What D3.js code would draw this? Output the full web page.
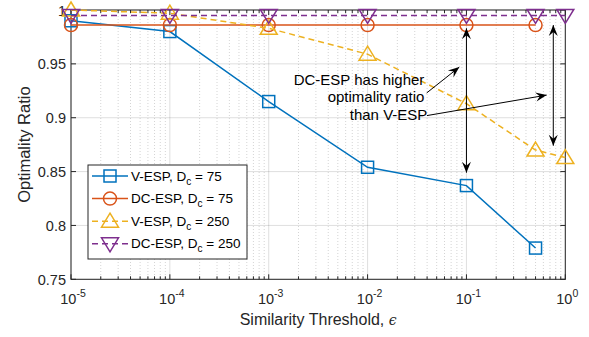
<!DOCTYPE html>
<html>
<head>
<meta charset="UTF-8">
<script src="https://d3js.org/d3.v7.min.js"></script>
<style>
  body { margin: 0; background: #fff; }
  svg { display: block; font-family: 'Liberation Sans', Arial, sans-serif; }
  .grid line { stroke: #262626; stroke-opacity: 0.15; }
  .mgrid line { stroke: #262626; stroke-opacity: 0.2; stroke-dasharray: 1,2; }
</style>
</head>
<body>
<svg id="chart" width="589" height="337"></svg>
<script>
// data
const xTicks = [1e-5, 1e-4, 1e-3, 1e-2, 1e-1, 1];
const xTickExp = ["-5", "-4", "-3", "-2", "-1", "0"];
const yTicks = [0.75, 0.8, 0.85, 0.9, 0.95, 1];
const yTickLabels = ["0.75", "0.8", "0.85", "0.9", "0.95", "1"];

const epsShort = [1e-5, 1e-4, 1e-3, 1e-2, 1e-1, 0.5];
const epsLong = [1e-5, 1e-4, 1e-3, 1e-2, 1e-1, 0.5, 1];
const vEsp75 = [0.990, 0.980, 0.915, 0.854, 0.837, 0.779];
const dcEsp75 = [0.986, 0.986, 0.986, 0.986, 0.986, 0.986];
const vEsp250 = [1.0, 0.997, 0.983, 0.959, 0.913, 0.870, 0.863];
const dcEsp250 = [0.995, 0.995, 0.995, 0.995, 0.995, 0.995, 0.995];

const series = [
  { name: "V-ESP, D", sub: "c", val: " = 75", x: epsShort, y: vEsp75, color: "#0072BD", dash: null, marker: "square" },
  { name: "DC-ESP, D", sub: "c", val: " = 75", x: epsShort, y: dcEsp75, color: "#D95319", dash: null, marker: "circle" },
  { name: "V-ESP, D", sub: "c", val: " = 250", x: epsLong, y: vEsp250, color: "#EDB120", dash: "6,4", marker: "up" },
  { name: "DC-ESP, D", sub: "c", val: " = 250", x: epsLong, y: dcEsp250, color: "#7E2F8E", dash: "6,4", marker: "down" }
];

const noteLines = ["DC-ESP has higher", "optimality ratio", "than V-ESP"];
const noteAnchor = [0.0375, 0.919];
const singleArrows = [
  { from: [0.0396, 0.923], to: [0.0847, 0.947] },
  { from: [0.0399, 0.902], to: [0.648, 0.921] }
];
const doubleArrows = [
  { x: 0.1, y1: 0.983, y2: 0.849 },
  { x: 0.756, y1: 0.986, y2: 0.874 }
];

const svg = d3.select("#chart");
const m = { left: 71, right: 23.7, top: 10, bottom: 57.7 };
const W = 589, H = 337;
const x = d3.scaleLog().domain([1e-5, 1]).range([m.left, W - m.right]);
const y = d3.scaleLinear().domain([0.75, 1]).range([H - m.bottom, m.top]);
const x0 = x.range()[0], x1 = x.range()[1], yb = y.range()[0], yt = y.range()[1];

// minor x values
const minorX = [];
for (let e = -5; e < 0; e++) for (let k = 2; k <= 9; k++) minorX.push(k * Math.pow(10, e));

svg.append("g").attr("class", "mgrid").selectAll("line").data(minorX).enter().append("line")
  .attr("x1", d => x(d)).attr("x2", d => x(d)).attr("y1", yt).attr("y2", yb);
svg.append("g").attr("class", "grid").selectAll("line").data(xTicks).enter().append("line")
  .attr("x1", d => x(d)).attr("x2", d => x(d)).attr("y1", yt).attr("y2", yb);
svg.append("g").attr("class", "grid").selectAll("line").data(yTicks).enter().append("line")
  .attr("y1", d => y(d)).attr("y2", d => y(d)).attr("x1", x0).attr("x2", x1);

// axes with inward ticks (box)
const axColor = "#262626";
const ax = svg.append("g").attr("stroke", axColor).attr("stroke-width", 1);
ax.append("rect").attr("x", x0).attr("y", yt).attr("width", x1 - x0).attr("height", yb - yt).attr("fill", "none");
xTicks.forEach(t => {
  ax.append("line").attr("x1", x(t)).attr("x2", x(t)).attr("y1", yb).attr("y2", yb - 5);
  ax.append("line").attr("x1", x(t)).attr("x2", x(t)).attr("y1", yt).attr("y2", yt + 5);
});
minorX.forEach(t => {
  ax.append("line").attr("x1", x(t)).attr("x2", x(t)).attr("y1", yb).attr("y2", yb - 3);
  ax.append("line").attr("x1", x(t)).attr("x2", x(t)).attr("y1", yt).attr("y2", yt + 3);
});
yTicks.forEach(t => {
  ax.append("line").attr("y1", y(t)).attr("y2", y(t)).attr("x1", x0).attr("x2", x0 + 5);
  ax.append("line").attr("y1", y(t)).attr("y2", y(t)).attr("x1", x1).attr("x2", x1 - 5);
});

// tick labels
const yl = svg.append("g").attr("fill", axColor).attr("font-size", 14.5).attr("text-anchor", "end");
yTicks.forEach((t, i) => {
  yl.append("text").attr("x", x0 - 5).attr("y", y(t) + 5.5).text(yTickLabels[i]);
});
const xl = svg.append("g").attr("fill", axColor).attr("font-size", 14.5).attr("text-anchor", "middle");
xTicks.forEach((t, i) => {
  const tx = xl.append("text").attr("x", x(t) + 2).attr("y", yb + 25);
  tx.append("tspan").text("10");
  tx.append("tspan").attr("dy", -7).attr("font-size", 10.5).text(xTickExp[i]);
});

// axis titles
const xt = svg.append("text").attr("x", (x0 + x1) / 2).attr("y", 325).attr("text-anchor", "middle")
  .attr("font-size", 16).attr("fill", axColor);
xt.append("tspan").text("Similarity Threshold, ");
xt.append("tspan").attr("font-family", "'DejaVu Serif', serif").attr("font-style", "italic").attr("font-size", 14).text("\u03F5");
svg.append("text").attr("transform", `translate(30,${(yt + yb) / 2}) rotate(-90)`)
  .attr("text-anchor", "middle").attr("font-size", 16.5).attr("fill", axColor).text("Optimality Ratio");

// markers
function drawMarker(g, type, cx, cy, color) {
  if (type === "square") {
    g.append("rect").attr("x", cx - 6).attr("y", cy - 6).attr("width", 12).attr("height", 12)
      .attr("fill", "none").attr("stroke", color).attr("stroke-width", 1.5);
  } else if (type === "circle") {
    g.append("circle").attr("cx", cx).attr("cy", cy).attr("r", 6.5)
      .attr("fill", "none").attr("stroke", color).attr("stroke-width", 1.5);
  } else if (type === "up") {
    g.append("path").attr("d", `M${cx},${cy - 8}L${cx + 8.5},${cy + 6}L${cx - 8.5},${cy + 6}Z`)
      .attr("fill", "none").attr("stroke", color).attr("stroke-width", 1.5);
  } else {
    g.append("path").attr("d", `M${cx},${cy + 8}L${cx + 8.5},${cy - 6}L${cx - 8.5},${cy - 6}Z`)
      .attr("fill", "none").attr("stroke", color).attr("stroke-width", 1.5);
  }
}

const line = d3.line().x(d => x(d[0])).y(d => y(d[1]));
series.forEach(s => {
  const g = svg.append("g");
  const pts = s.x.map((v, i) => [v, s.y[i]]);
  g.append("path").attr("d", line(pts)).attr("fill", "none").attr("stroke", s.color)
    .attr("stroke-width", 1.5).attr("stroke-dasharray", s.dash);
  pts.forEach(p => drawMarker(g, s.marker, x(p[0]), y(p[1]), s.color));
});

// arrows
function arrowHead(g, tx, ty, fx, fy) {
  const a = Math.atan2(ty - fy, tx - fx);
  const L = 11, Wd = 4.5, back = 7;
  const p = (dx, dy) => [tx + dx * Math.cos(a) - dy * Math.sin(a), ty + dx * Math.sin(a) + dy * Math.cos(a)];
  const pts = [p(0, 0), p(-L, Wd), p(-back, 0), p(-L, -Wd)];
  g.append("path").attr("d", "M" + pts.map(q => q.join(",")).join("L") + "Z").attr("fill", "#000");
}
const ag = svg.append("g");
singleArrows.forEach(a => {
  const fx = x(a.from[0]), fy = y(a.from[1]), tx = x(a.to[0]), ty = y(a.to[1]);
  ag.append("line").attr("x1", fx).attr("y1", fy).attr("x2", tx).attr("y2", ty).attr("stroke", "#000").attr("stroke-width", 1);
  arrowHead(ag, tx, ty, fx, fy);
});
doubleArrows.forEach(a => {
  const ax_ = x(a.x), ya = y(a.y1), yb2 = y(a.y2);
  ag.append("line").attr("x1", ax_).attr("y1", ya).attr("x2", ax_).attr("y2", yb2).attr("stroke", "#000").attr("stroke-width", 1);
  arrowHead(ag, ax_, ya, ax_, yb2);
  arrowHead(ag, ax_, yb2, ax_, ya);
});

// annotation text
const nt = svg.append("g").attr("font-size", 15).attr("fill", "#000").attr("text-anchor", "end");
noteLines.forEach((t, i) => {
  nt.append("text").attr("x", x(noteAnchor[0]) + (i === 2 ? 3 : 0)).attr("y", y(noteAnchor[1]) + (i - 1) * 17.5 + 5).text(t);
});

// legend
const lg = svg.append("g");
lg.append("rect").attr("x", 88).attr("y", 165).attr("width", 159).attr("height", 94)
  .attr("fill", "#fff").attr("stroke", axColor).attr("stroke-width", 1);
series.forEach((s, i) => {
  const cy = 176 + i * 22.6;
  lg.append("line").attr("x1", 92).attr("x2", 128).attr("y1", cy).attr("y2", cy)
    .attr("stroke", s.color).attr("stroke-width", 1.5).attr("stroke-dasharray", s.dash);
  drawMarker(lg, s.marker, 110, cy, s.color);
  const t = lg.append("text").attr("x", 131).attr("y", cy + 4.5).attr("font-size", 13.5).attr("fill", "#000");
  t.append("tspan").text(s.name);
  t.append("tspan").attr("dy", 4).attr("font-size", 10).text(s.sub);
  t.append("tspan").attr("dy", -4).text(s.val);
});
</script>
</body>
</html>
